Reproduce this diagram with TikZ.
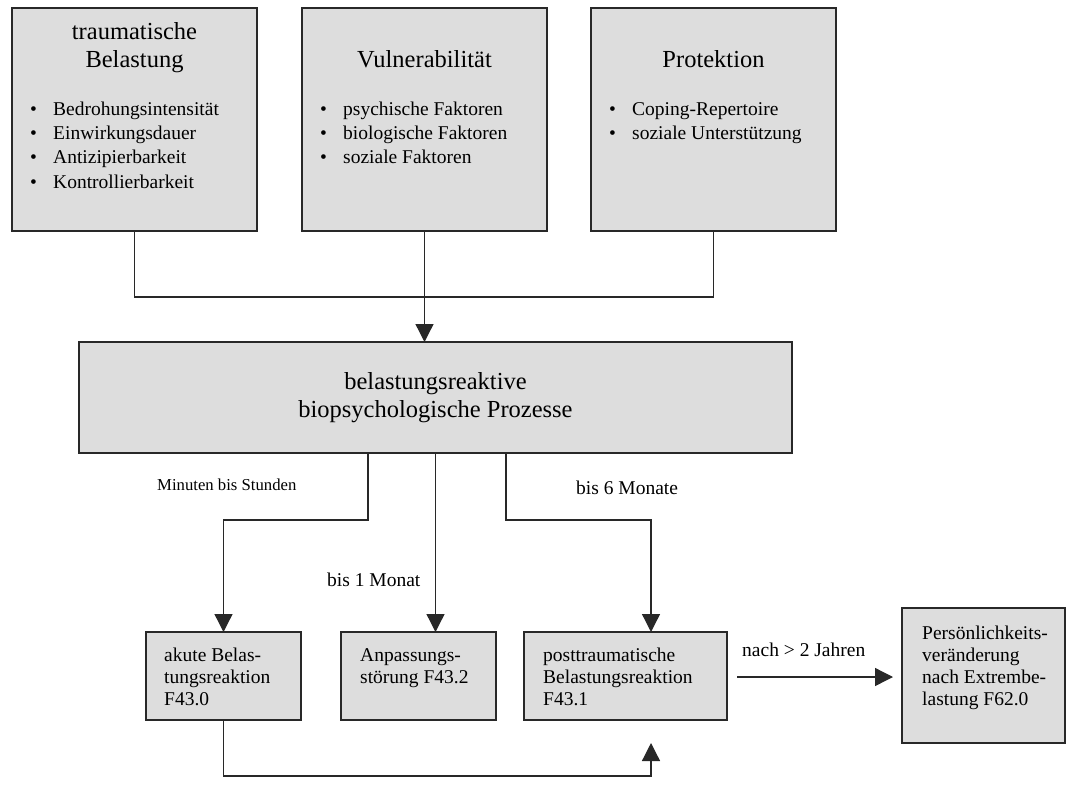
\documentclass[tikz,border=0pt]{standalone}
\usepackage{fontspec}
\setmainfont{Liberation Serif}
\usetikzlibrary{arrows.meta}
\definecolor{boxgray}{RGB}{221,221,221}
\definecolor{edgecol}{RGB}{40,40,40}
\newcommand\mybullet{\makebox[23pt][l]{•}}
\begin{document}
\begin{tikzpicture}[x=1pt,y=-1pt,
  box/.style={draw=edgecol, fill=boxgray, line width=1.6pt, inner sep=0pt, outer sep=0pt, anchor=north west},
  conn/.style={draw=edgecol, line width=1.3pt},
  arr/.style={conn, -{Triangle[length=18pt,width=18pt]}},
  title/.style={font=\fontsize{24.5}{28}\selectfont, align=center, inner sep=0pt},
  txt/.style={font=\fontsize{19.5}{22.3}\selectfont, align=left, inner sep=0pt, anchor=base west},
  blist/.style={font=\fontsize{19.5}{24.4}\selectfont, align=left, inner sep=0pt, anchor=base west},
  small/.style={font=\fontsize{16.7}{20}\selectfont, inner sep=0pt, anchor=base west}]
\useasboundingbox (0,0) rectangle (1073,787);
% boxes
\node[box, minimum width=245pt, minimum height=223pt] (b1) at (12,8) {};
\node[box, minimum width=245pt, minimum height=223pt] (b2) at (302,8) {};
\node[box, minimum width=245pt, minimum height=223pt] (b3) at (591,8) {};
\node[box, minimum width=713pt, minimum height=111pt] (mid) at (79,342) {};
\node[box, minimum width=155pt, minimum height=88pt] (ba) at (146,632) {};
\node[box, minimum width=155pt, minimum height=88pt] (bb) at (341,632) {};
\node[box, minimum width=203pt, minimum height=88pt] (bc) at (524,632) {};
\node[box, minimum width=163pt, minimum height=135pt] (bd) at (902,608) {};
% titles (base anchor = baseline of last line)
\node[title, anchor=base] (t1) at (134.5,67.5) {traumatische\\Belastung};
\node[title, anchor=base] (t2) at (424.5,67.5) {Vulnerabilität};
\node[title, anchor=base] (t3) at (713.5,67.5) {Protektion};
\node[blist] (l1) at (30,188.2) {\mybullet Bedrohungsintensität\\\mybullet Einwirkungsdauer\\\mybullet Antizipierbarkeit\\\mybullet Kontrollierbarkeit};
\node[blist] (l2) at (320,163.8) {\mybullet psychische Faktoren\\\mybullet biologische Faktoren\\\mybullet soziale Faktoren};
\node[blist] (l3) at (609,139.4) {\mybullet Coping-Repertoire\\\mybullet soziale Unterstützung};
\node[title] (tm) at (mid.center) {belastungsreaktive\\biopsychologische Prozesse};
% bottom texts
\node[txt] (ta) at (164,705.6) {akute Belas-\\tungsreaktion\\F43.0};
\node[txt] (tb) at (360,683.3) {Anpassungs-\\störung F43.2};
\node[txt] (tc) at (543,705.6) {posttraumatische\\Belastungsreaktion\\F43.1};
\node[txt] (td) at (922,705.9) {Persönlichkeits-\\veränderung\\nach Extrembe-\\lastung F62.0};
% labels
\node[small] (lm) at (157,490) {Minuten bis Stunden};
\node[txt] (l6) at (576,494) {bis 6 Monate};
\node[txt] (l1m) at (327,586) {bis 1 Monat};
\node[txt] (ln) at (742,656) {nach > 2 Jahren};
% connectors
\coordinate (jm) at (424.5,297);
\draw[conn] (b1.south) |- (jm) -| (b3.south);
\draw[arr] (b2.south) -- (b2.south |- mid.north);
\coordinate (s1) at (368,453);
\coordinate (k1) at (368,520);
\draw[arr] (s1) -- (k1) -| (ba.north);
\draw[arr] (mid.south) -- (mid.south |- bb.north);
\coordinate (s3) at (506,453);
\coordinate (k3) at (506,520);
\coordinate (cin) at (651,632);
\draw[arr] (s3) -- (k3) -| (cin);
\coordinate (fb) at (651,743);
\coordinate (fbot) at (651,776);
\draw[arr] (ba.south) |- (fbot) -- (fb);
\coordinate (ns) at (737,677);
\coordinate (ne) at (893,677);
\draw[arr] (ns) -- (ne);
\end{tikzpicture}
\end{document}
